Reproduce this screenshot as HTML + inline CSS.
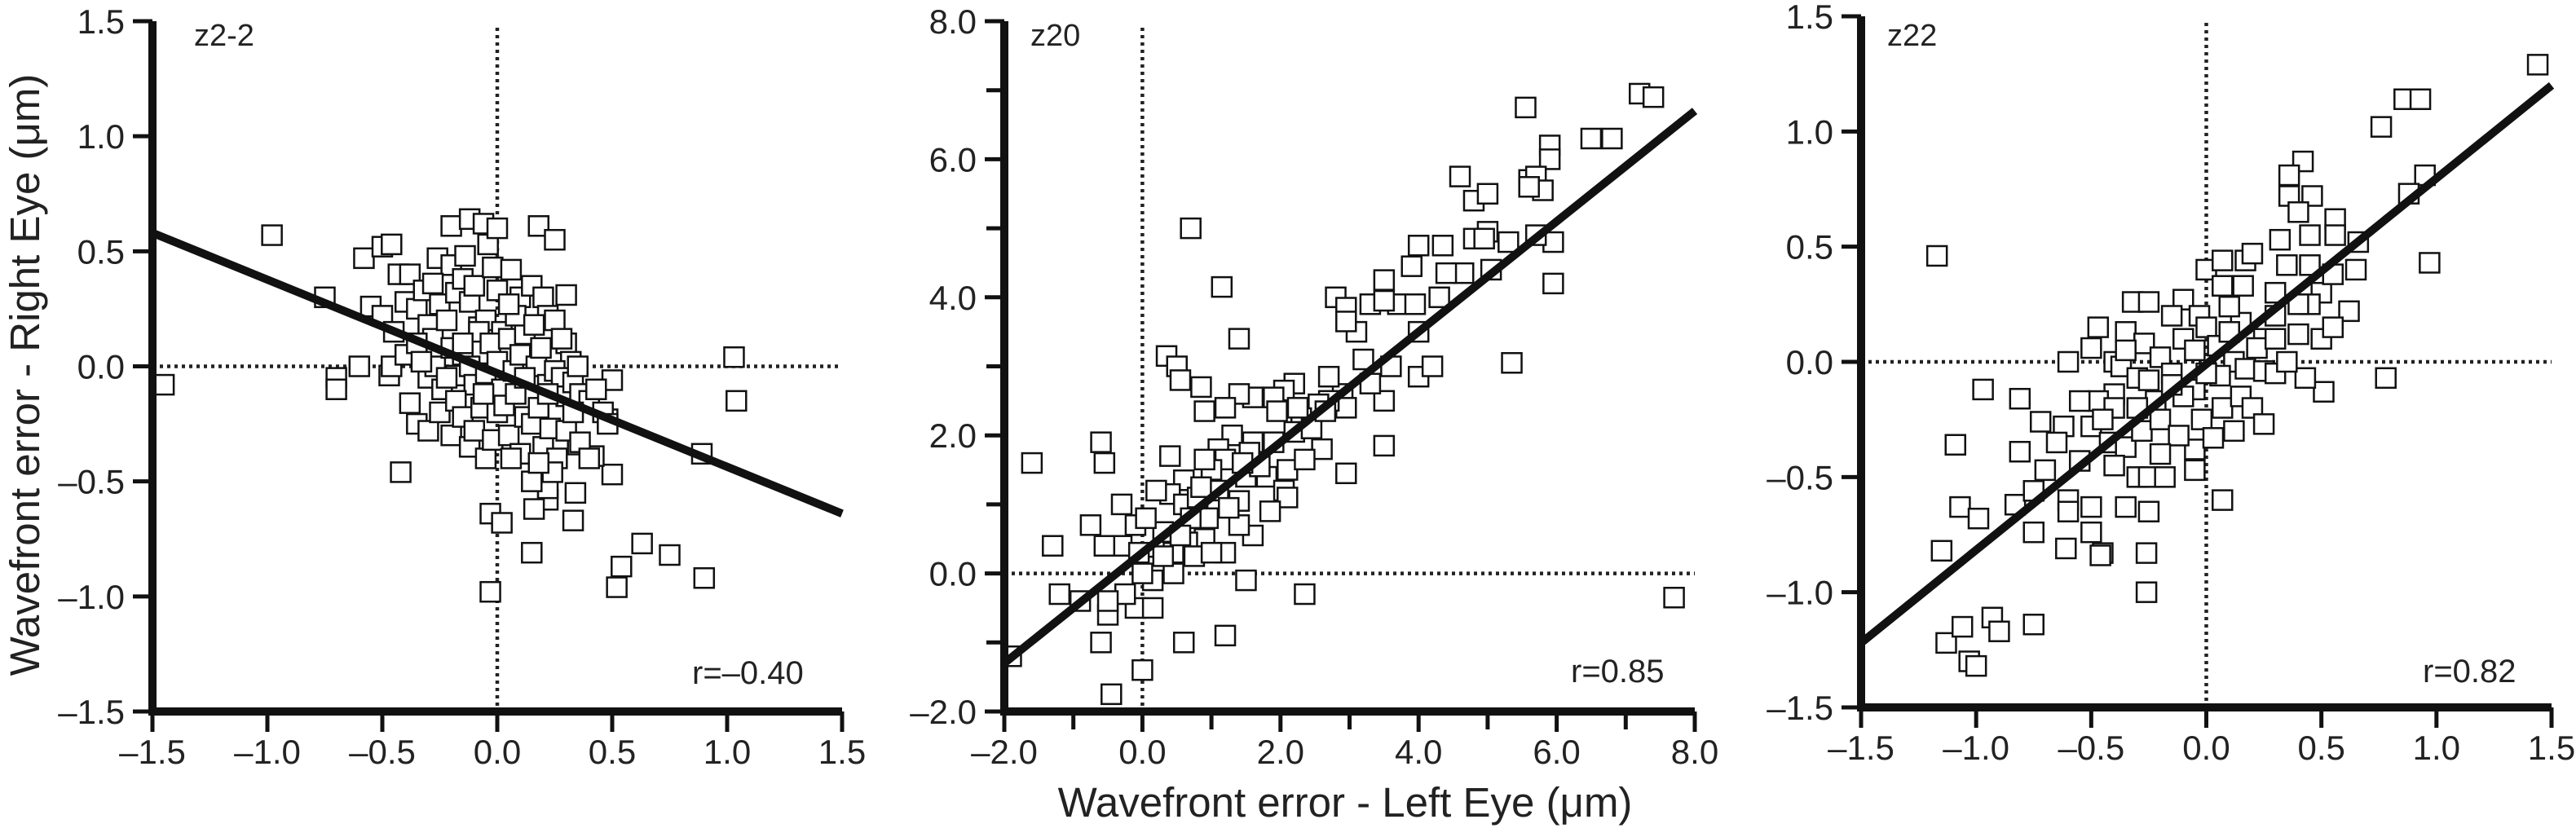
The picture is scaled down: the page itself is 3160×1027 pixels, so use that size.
<!DOCTYPE html>
<html><head><meta charset="utf-8"><style>
html,body{margin:0;padding:0;background:#fff;}
svg{display:block;font-family:"Liberation Sans",Arial,sans-serif;}
</style></head><body>
<svg id="fig" width="3160" height="1027" viewBox="0 0 3160 1027" xmlns="http://www.w3.org/2000/svg">
<rect width="3160" height="1027" fill="#fff"/>
<text x="48" y="460" font-size="51" text-anchor="middle" transform="rotate(-90 48 460)" fill="#222">Wavefront error - Right Eye (μm)</text>
<text x="1650" y="1002" font-size="51" text-anchor="middle" fill="#222">Wavefront error - Left Eye (μm)</text>
</svg>
<script>
// Panel 1 (z2-2)
const p1X = [-1.45,-0.98,-0.75,-0.7,-0.7,-0.6,-0.58,-0.5,-0.46,-0.47,-0.46,-0.43,-0.38,-0.38,-0.42,-0.26,-0.2,-0.12,-0.06,-0.04,0.0,0.18,0.25,1.03,1.04,0.89,0.5,0.5,0.54,0.52,0.63,0.75,0.9,-0.03,-0.03,0.02,0.15,0.33,0.34,0.22,0.22,0.16,0.15,0.48,0.42,0.35,
-0.55,-0.5,-0.45,-0.4,-0.35,-0.32,-0.3,-0.28,-0.25,-0.22,-0.2,-0.18,-0.15,-0.12,-0.1,-0.08,-0.05,-0.02,0.02,0.06,0.1,0.15,0.2,0.22,0.25,0.3,0.32,-0.4,-0.35,-0.3,-0.27,-0.24,-0.2,-0.18,-0.15,-0.12,-0.1,-0.08,-0.05,-0.03,0.0,0.02,0.05,0.07,0.1,0.12,0.14,0.17,0.19,0.22,0.25,0.28,0.3,0.33,0.36,0.4,0.43,0.46,0.48,-0.35,-0.3,-0.25,-0.2,-0.18,-0.15,-0.12,-0.1,-0.07,-0.05,-0.02,0.0,0.03,0.05,0.08,0.1,0.12,0.15,0.18,0.2,0.23,0.26,0.3,0.33,0.36,0.4,-0.15,0.08,-0.28,0.0,0.12,0.28,0.3,-0.22,0.16,-0.06,0.06,0.24,0.18,0.22,-0.14,0.05,-0.33,0.35];
const p1Y = [-0.08,0.57,0.3,-0.05,-0.1,0.0,0.47,0.52,0.53,-0.04,0.0,0.4,0.4,-0.16,-0.46,0.47,0.61,0.64,0.62,0.53,0.6,0.61,0.55,0.04,-0.15,-0.38,-0.06,-0.47,-0.87,-0.96,-0.77,-0.82,-0.92,-0.98,-0.64,-0.68,-0.81,-0.67,-0.55,-0.58,-0.53,-0.62,-0.5,-0.23,-0.39,-0.34,
0.26,0.22,0.15,0.28,0.25,0.33,0.18,0.12,0.27,0.2,0.44,0.32,0.38,0.28,0.35,0.17,0.2,0.43,0.15,0.42,0.3,0.35,0.3,0.22,0.2,0.1,0.02,0.05,0.1,-0.05,0.0,-0.1,0.08,-0.04,0.05,0.0,-0.08,0.15,-0.03,0.1,0.02,-0.1,0.12,-0.02,0.05,0.14,-0.05,0.0,0.08,-0.08,-0.02,-0.05,-0.13,-0.07,-0.12,-0.15,-0.1,-0.2,-0.25,-0.25,-0.28,-0.2,-0.3,-0.15,-0.22,-0.35,-0.28,-0.18,-0.4,-0.32,-0.2,-0.17,-0.3,-0.12,-0.38,-0.22,-0.25,-0.18,-0.35,-0.27,-0.4,-0.28,-0.2,-0.33,-0.4,0.1,0.22,0.36,0.33,-0.05,0.12,0.31,-0.05,0.18,-0.12,-0.4,-0.46,-0.42,-0.12,0.48,0.27,0.02,0.0];
const p1Fit = [0.58,-0.64];
// Panel 2 (z20)
const p2X = [7.2,7.4,5.55,6.5,6.8,5.9,5.9,4.6,4.8,5.0,5.6,5.7,5.8,5.6,5.95,5.95,5.35,7.7,0.7,1.15,1.4,0.35,0.5,0.55,0.85,0.9,-1.6,-0.6,-0.55,-1.3,-1.2,-1.9,-0.6,-0.45,0.0,0.6,1.2,1.5,2.35,2.95,3.5,2.6,3.5,4.0,4.2,5.0,5.3,5.7,5.05,4.65,4.4,4.8,4.95,4.0,4.35,3.9,3.5,3.7,3.95,4.0,4.3,3.3,3.1,2.8,2.95,2.95,3.5,3.2,3.6,3.3,2.9,2.95,2.7,2.7,2.2,2.55,2.3,2.05,1.9,1.6,1.4,1.2,1.95,2.2,2.45,1.9,1.6,1.3,1.1,1.2,1.0,0.9,0.4,0.6,0.4,0.2,0.6,1.1,1.5,1.4,1.8,2.1,2.05,2.1,1.85,1.7,1.6,1.4,1.2,0.9,0.95,0.65,0.45,0.2,0.15,0.45,0.75,-0.3,-0.1,-0.3,-0.75,-0.55,-0.05,-0.1,0.15,-0.25,-0.5,-0.5,-0.9,0.0,0.3,0.05,0.8,1.25,0.7,1.0,0.3,1.55,2.25,2.65,2.35,1.45,0.85,0.55];
const p2Y = [6.95,6.9,6.75,6.3,6.3,6.2,6.0,5.75,5.4,5.5,5.7,5.75,5.55,5.6,4.8,4.2,3.05,-0.35,5.0,4.15,3.4,3.15,3.0,2.8,2.7,2.35,1.6,1.9,1.6,0.4,-0.3,-1.2,-1.0,-1.75,-1.4,-1.0,-0.9,-0.1,-0.3,1.45,1.85,1.8,2.5,2.85,3.0,4.95,4.8,4.9,4.4,4.35,4.35,4.85,4.85,4.75,4.75,4.45,4.25,3.9,3.9,3.5,4.0,3.9,3.5,4.0,3.85,3.65,3.95,3.1,3.0,2.75,2.6,2.4,2.85,2.5,2.75,2.45,2.25,2.65,2.55,2.55,2.6,2.4,2.35,2.05,2.1,1.9,1.9,2.0,1.8,1.65,1.5,1.65,1.7,1.35,1.15,1.2,1.0,1.2,1.4,1.05,1.4,1.5,1.2,1.1,0.9,1.55,0.55,0.7,0.3,0.5,0.8,0.45,0.3,0.1,-0.1,0.0,0.25,1.0,0.7,0.4,0.7,0.4,0.3,-0.5,-0.5,-0.3,-0.6,-0.4,-0.4,0.0,0.6,0.8,1.1,0.95,0.8,0.3,0.25,1.75,2.4,2.35,1.65,1.6,1.25,0.55];
const p2Fit = [-1.3,6.7];
// Panel 3 (z22)
const p3X = [1.44,0.86,0.93,0.76,0.42,0.36,0.36,0.46,0.4,0.95,0.88,0.97,0.56,0.66,0.56,0.45,0.32,0.78,0.51,0.43,-1.17,-0.97,-0.81,-1.09,-0.81,-1.07,-0.99,-1.15,-0.83,-0.75,-1.13,-1.06,-0.93,-0.9,-0.75,-1.03,-1.0,-0.26,-0.26,-0.25,-0.45,-0.46,-0.61,-0.5,-0.6,-0.6,-0.5,-0.35,0.07,-0.75,-0.7,-0.72,
-0.6,-0.5,-0.47,-0.32,-0.25,-0.1,-0.03,0.0,0.07,0.17,0.2,0.07,0.16,0.3,0.35,0.45,0.5,0.55,0.65,0.62,0.5,0.45,0.4,0.3,0.25,0.15,0.1,0.0,-0.15,-0.35,-0.4,-0.37,-0.3,-0.27,-0.2,-0.1,-0.05,0.05,0.12,0.17,0.22,0.25,0.3,0.06,-0.05,-0.15,-0.22,-0.3,-0.4,-0.47,-0.55,-0.62,-0.5,-0.42,-0.35,-0.28,-0.2,-0.1,-0.02,0.07,0.12,0.15,0.2,0.25,-0.05,-0.12,-0.2,-0.3,-0.25,-0.18,-0.4,-0.55,-0.05,0.03,-0.4,-0.15,0.0,0.3,0.1,-0.25,-0.35,0.4,0.35,0.55,-0.65,-0.45];
const p3Y = [1.29,1.14,1.14,1.02,0.87,0.81,0.72,0.72,0.65,0.81,0.73,0.43,0.62,0.52,0.55,0.55,0.53,-0.07,-0.13,-0.07,0.46,-0.12,-0.16,-0.36,-0.39,-0.63,-0.68,-0.82,-0.62,-0.74,-1.22,-1.15,-1.11,-1.17,-1.14,-1.3,-1.32,-1.0,-0.83,-0.65,-0.83,-0.84,-0.81,-0.74,-0.6,-0.65,-0.63,-0.63,-0.6,-0.56,-0.47,-0.26,
0.0,0.06,0.15,0.26,0.26,0.27,0.2,0.4,0.44,0.44,0.47,0.33,0.33,0.3,0.42,0.42,0.3,0.38,0.4,0.22,0.1,0.25,0.12,0.2,0.1,0.17,0.24,0.15,0.2,0.13,0.0,-0.02,-0.07,0.08,0.02,0.1,0.05,0.07,0.0,-0.03,0.06,-0.04,-0.05,-0.06,-0.12,-0.05,-0.17,-0.2,-0.14,-0.17,-0.17,-0.28,-0.28,-0.35,-0.37,-0.3,-0.25,-0.15,-0.25,-0.2,-0.3,-0.15,-0.2,-0.27,-0.38,-0.32,-0.4,-0.5,-0.5,-0.5,-0.45,-0.43,-0.47,-0.33,-0.2,-0.1,-0.05,0.1,0.13,-0.08,0.05,0.25,0.0,0.15,-0.35,-0.25];
const p3Fit = [-1.22,1.2];

const p1XTicks = ["–1.5","–1.0","–0.5","0.0","0.5","1.0","1.5"];
const p1XTickVals = [-1.5,-1.0,-0.5,0,0.5,1.0,1.5];
const p2XTicks = ["–2.0","0.0","2.0","4.0","6.0","8.0"];
const p2XTickVals = [-2,0,2,4,6,8];
const p2Minor = [-1,1,3,5,7];
const p3XTicks = p1XTicks;
const p3XTickVals = p1XTickVals;

const NS = "http://www.w3.org/2000/svg";
const svg = document.getElementById('fig');
function mk(tag, attrs, parent){const e=document.createElementNS(NS,tag);for(const k in attrs)e.setAttribute(k,attrs[k]);(parent||svg).appendChild(e);return e;}

const panels = [
 {key:'p1',x0:187,x1:1033,yTop:26,yBot:873,min:-1.5,max:1.5,xs:p1X,ys:p1Y,fit:p1Fit,ticks:p1XTicks,tickVals:p1XTickVals,minor:[],label:"z2-2",lx:238,r:"r=–0.40",rx:849,ry:839},
 {key:'p2',x0:1232,x1:2079,yTop:26,yBot:873,min:-2,max:8,xs:p2X,ys:p2Y,fit:p2Fit,ticks:p2XTicks,tickVals:p2XTickVals,minor:p2Minor,label:"z20",lx:1264,r:"r=0.85",rx:1927,ry:837},
 {key:'p3',x0:2283,x1:3130,yTop:20,yBot:868,min:-1.5,max:1.5,xs:p3X,ys:p3Y,fit:p3Fit,ticks:p3XTicks,tickVals:p3XTickVals,minor:[],label:"z22",lx:2315,r:"r=0.82",rx:2972,ry:837}
];

panels.forEach(P=>{
 const g = mk('g',{});
 
 
 const sx = v => P.x0 + (v-P.min)/(P.max-P.min)*(P.x1-P.x0);
 const sy = v => P.yBot - (v-P.min)/(P.max-P.min)*(P.yBot-P.yTop);
 const vz = mk('line',{x1:sx(0),x2:sx(0),y1:P.yTop+8,y2:P.yBot,stroke:'#222','stroke-width':4.5,'stroke-dasharray':'4 5'},g);
 
 
 const hz = mk('line',{x1:P.x0,x2:P.x1,y1:sy(0),y2:sy(0),stroke:'#222','stroke-width':4.5,'stroke-dasharray':'4 5'},g);
 
 
 const pg = mk('g',{},g);
 
 
 const s=24;
 for(let i=0;i<P.xs.length;i++){
  const r = mk('rect',{x:sx(P.xs[i])-s/2,y:sy(P.ys[i])-s/2,width:s,height:s,fill:'#fff',stroke:'#111','stroke-width':2.5},pg);
  
  
 }
 const fl = mk('line',{x1:sx(P.min),y1:sy(P.fit[0]),x2:sx(P.max),y2:sy(P.fit[1]),stroke:'#111','stroke-width':10},g);
 
 
 const ya = mk('line',{x1:P.x0,x2:P.x0,y1:P.yTop,y2:P.yBot+5,stroke:'#111','stroke-width':10},g);
 
 
 const xa = mk('line',{x1:P.x0-5,x2:P.x1,y1:P.yBot,y2:P.yBot,stroke:'#111','stroke-width':10},g);
 
 
 P.tickVals.forEach((v,i)=>{
  const tx = mk('line',{x1:sx(v),x2:sx(v),y1:P.yBot,y2:P.yBot+25,stroke:'#111','stroke-width':5},g);
  
  
  const tl = mk('text',{x:sx(v),y:P.yBot+64,'font-size':42,'text-anchor':'middle',fill:'#222'},g);
  tl.textContent = P.ticks[i];
  
  
  const ty = mk('line',{x1:P.x0-24,x2:P.x0,y1:sy(v),y2:sy(v),stroke:'#111','stroke-width':5},g);
  
  
  const yl = mk('text',{x:P.x0-34,y:sy(v)+15,'font-size':42,'text-anchor':'end',fill:'#222'},g);
  yl.textContent = P.ticks[i];
  
  
 });
 P.minor.forEach(v=>{
  const tx = mk('line',{x1:sx(v),x2:sx(v),y1:P.yBot,y2:P.yBot+22,stroke:'#111','stroke-width':5},g);
  
  
  const ty = mk('line',{x1:P.x0-22,x2:P.x0,y1:sy(v),y2:sy(v),stroke:'#111','stroke-width':5},g);
  
  
 });
 const lb = mk('text',{x:P.lx,y:56,'font-size':38,fill:'#222'},g);
 lb.textContent = P.label;
 
 
 const rt = mk('text',{x:P.rx,y:P.ry,'font-size':40,fill:'#222'},g);
 rt.textContent = P.r;
 
 
});
</script>
</body></html>
